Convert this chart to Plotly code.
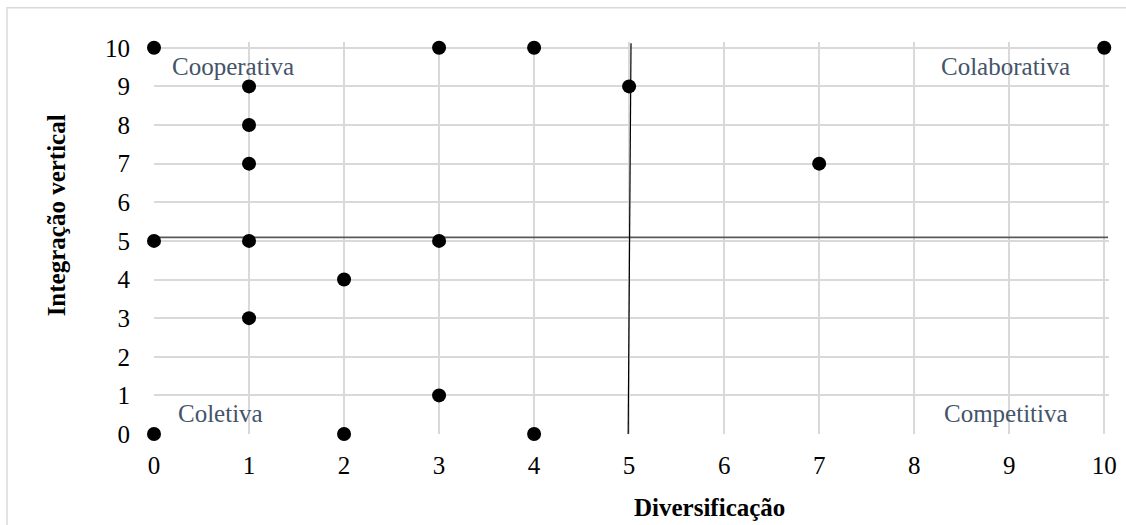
import plotly.graph_objects as go

# Data points (Diversificação, Integração vertical)
div_x = [0, 1, 1, 1, 0, 1, 3, 2, 1, 3, 0, 2, 4, 3, 4, 5, 7, 10]
int_y = [10, 9, 8, 7, 5, 5, 5, 4, 3, 1, 0, 0, 0, 10, 10, 9, 7, 10]

# Quadrant divider lines
hline_x = [0, 10.04]
hline_y = [5.09, 5.09]
vline_x = [4.99, 5.02]
vline_y = [0, 10.12]

tick_vals = list(range(0, 11))
tick_text = [str(v) for v in tick_vals]

quad_labels = ["Cooperativa", "Colaborativa", "Coletiva", "Competitiva"]
x_title = "Diversificação"
y_title = "Integração vertical"

FONT = "Times New Roman, Liberation Serif, serif"
GRID = "#D9D9D9"
LABEL_COLOR = "#44546A"
FS = 25

fig = go.Figure()
fig.add_trace(go.Scatter(x=hline_x, y=hline_y, mode="lines",
                         line=dict(color="#595959", width=1.6),
                         hoverinfo="skip", showlegend=False))
fig.add_trace(go.Scatter(x=vline_x, y=vline_y, mode="lines",
                         line=dict(color="#000000", width=1.2),
                         hoverinfo="skip", showlegend=False))
fig.add_trace(go.Scatter(x=div_x, y=int_y, mode="markers",
                         marker=dict(color="#000000", size=14),
                         cliponaxis=False, showlegend=False))

L, T = 154, 42.2
PW, PH = 954.75, 391.8
W, H = 1126, 525

def px_x(p):
    return (p - L) / PW

def px_y(p):
    return (T + PH - p) / PH

fig.update_layout(
    width=W, height=H,
    margin=dict(l=L, r=W - L - PW, t=T, b=H - T - PH, autoexpand=False),
    paper_bgcolor="white", plot_bgcolor="white",
    font=dict(family=FONT, color="#000000", size=FS),
    xaxis=dict(range=[0, 10.05], tickvals=tick_vals, ticktext=tick_text,
               showgrid=True, gridcolor=GRID, gridwidth=1.5,
               zeroline=False, showline=False, ticks="",
               ticklabelstandoff=14,
               tickfont=dict(size=FS, family=FONT)),
    yaxis=dict(range=[0, 10.15], tickvals=tick_vals, ticktext=tick_text,
               showgrid=True, gridcolor=GRID, gridwidth=1.5,
               zeroline=False, showline=False, ticks="",
               ticklabelstandoff=23,
               tickfont=dict(size=FS, family=FONT)),
    shapes=[dict(type="rect", xref="paper", yref="paper",
                 x0=px_x(7), x1=px_x(W + 5),
                 y0=px_y(H + 5), y1=px_y(8),
                 line=dict(color=GRID, width=1.5), fillcolor="rgba(0,0,0,0)", layer="below")],
    annotations=[
        dict(x=0.17, y=9.51, text=quad_labels[0], xanchor="left", yanchor="middle", showarrow=False,
             font=dict(size=FS, color=LABEL_COLOR, family=FONT)),
        dict(x=9.66, y=9.51, text=quad_labels[1], xanchor="right", yanchor="middle", showarrow=False,
             font=dict(size=FS, color=LABEL_COLOR, family=FONT)),
        dict(x=0.23, y=0.53, text=quad_labels[2], xanchor="left", yanchor="middle", showarrow=False,
             font=dict(size=FS, color=LABEL_COLOR, family=FONT)),
        dict(x=9.64, y=0.53, text=quad_labels[3], xanchor="right", yanchor="middle", showarrow=False,
             font=dict(size=FS, color=LABEL_COLOR, family=FONT)),
        dict(xref="paper", yref="paper", x=px_x(709.5), y=px_y(507),
             text="<b>" + x_title + "</b>", xanchor="center", yanchor="middle", showarrow=False,
             font=dict(size=FS, family=FONT, color="#000000")),
        dict(xref="paper", yref="paper", x=px_x(56), y=px_y(215.5),
             text="<b>" + y_title + "</b>", textangle=-90, xanchor="center", yanchor="middle",
             showarrow=False, font=dict(size=FS, family=FONT, color="#000000")),
    ],
)

fig.write_html("out.html", config={"displayModeBar": False},
               post_script="document.body.style.margin='0';")
